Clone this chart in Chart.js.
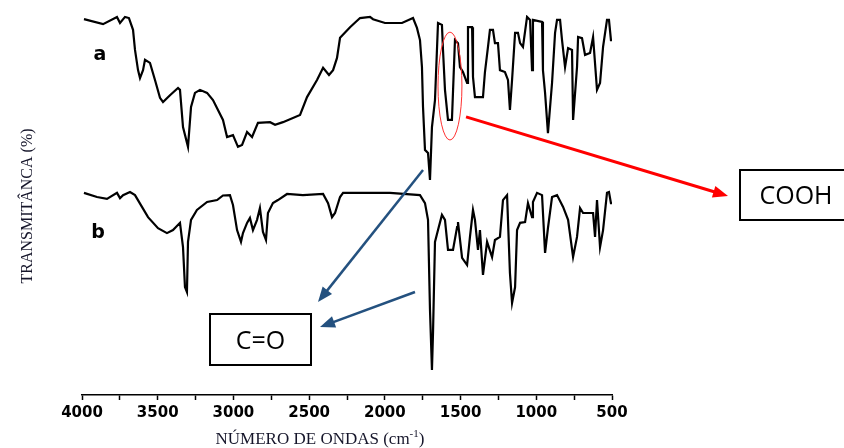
<!DOCTYPE html>
<html>
<head>
<meta charset="utf-8">
<title>Espectro IR</title>
<script src="https://cdn.jsdelivr.net/npm/chart.js@4.4.1/dist/chart.umd.min.js"></script>
<style>
  body { margin: 0; background: #fff; }
  canvas { display: block; }
</style>
</head>
<body>
<canvas id="grafico" width="844" height="448"></canvas>
<script>
// espectro a (numero de onda en cm-1 y transmitancia)
const ondasA = [3987, 3861, 3769, 3749, 3716, 3690, 3663, 3650, 3630, 3617, 3597, 3584, 3551, 3518, 3485, 3465,
  3419, 3366, 3353, 3333, 3300, 3280, 3254, 3221, 3174, 3135, 3069, 3042, 3003, 2970, 2943, 2910, 2877, 2838,
  2758, 2725, 2673, 2560, 2514, 2448, 2408, 2369, 2342, 2316, 2296, 2230, 2164, 2098, 2078, 1999, 1887, 1814,
  1788, 1768, 1755, 1748, 1735, 1715, 1702, 1689, 1669, 1649, 1623, 1616, 1603, 1583, 1557, 1537, 1517, 1504,
  1484, 1457, 1451, 1424, 1418, 1405, 1352, 1339, 1319, 1306, 1286, 1273, 1253, 1240, 1207, 1187, 1174, 1160,
  1140, 1121, 1107, 1088, 1061, 1041, 1028, 1022, 962, 956, 942, 923, 896, 876, 863, 843, 830, 810, 790, 764,
  757, 731, 724, 698, 678, 645, 625, 599, 579, 559, 533, 520, 507, 500];
const transA = [98.9, 97.6, 99.5, 97.9, 99.5, 99.2, 96.1, 90.8, 85.5, 83.4, 85.5, 88.2, 87.4, 82.9, 78.2, 77.1,
  78.9, 80.8, 80.3, 70.5, 65.3, 75.8, 79.5, 80.3, 79.5, 77.6, 72.4, 67.9, 68.4, 65.3, 65.8, 69.2, 67.9, 71.6,
  71.8, 71.1, 71.8, 73.7, 78.4, 82.9, 86.1, 84.2, 85.5, 88.7, 94.0, 96.8, 99.2, 99.5, 98.9, 97.9, 97.9, 99.2,
  96.6, 93.4, 86.3, 75.8, 64.5, 63.7, 56.6, 70.5, 77.6, 97.9, 97.4, 90.8, 80.3, 72.4, 72.4, 93.4, 92.6, 86.3,
  85.0, 82.1, 96.8, 96.8, 83.7, 78.4, 78.4, 85.0, 91.6, 96.1, 96.1, 92.6, 92.6, 85.5, 85.0, 82.9, 75.0, 82.9,
  95.3, 95.3, 92.6, 91.6, 99.5, 98.7, 85.5, 98.7, 98.2, 85.5, 79.5, 68.9, 82.1, 95.3, 98.7, 98.7, 93.4, 86.3,
  91.3, 90.8, 72.4, 86.3, 94.2, 93.9, 89.5, 90.0, 94.2, 80.3, 82.1, 91.6, 98.7, 98.7, 93.4, 93.4];

// espectro b
const ondasB = [3987, 3901, 3835, 3769, 3749, 3729, 3683, 3650, 3604, 3564, 3498, 3439, 3399, 3353, 3333, 3320,
  3307, 3300, 3280, 3241, 3174, 3108, 3069, 3023, 3003, 2976, 2950, 2937, 2910, 2891, 2871, 2844, 2825, 2805,
  2785, 2772, 2739, 2706, 2646, 2541, 2408, 2375, 2349, 2329, 2296, 2276, 2098, 1966, 1768, 1735, 1715, 1702,
  1689, 1682, 1669, 1649, 1623, 1603, 1583, 1550, 1523, 1517, 1490, 1457, 1438, 1418, 1405, 1385, 1372, 1352,
  1325, 1292, 1273, 1240, 1220, 1193, 1174, 1160, 1140, 1127, 1107, 1074, 1055, 1028, 1022, 995, 962, 942, 923,
  896, 863, 823, 790, 757, 731, 711, 691, 625, 612, 599, 579, 559, 533, 520, 507, 500];
const transB = [53.2, 52.1, 51.6, 53.2, 51.8, 52.6, 53.4, 52.6, 49.5, 46.8, 43.9, 42.6, 43.4, 45.3, 38.9, 28.4,
  27.1, 40.3, 46.1, 48.7, 50.8, 51.3, 52.5, 52.6, 50.0, 43.4, 40.3, 42.6, 45.3, 46.6, 43.4, 46.1, 49.2, 42.9,
  40.8, 47.9, 50.5, 51.3, 52.9, 52.6, 52.9, 50.5, 46.8, 47.9, 52.1, 53.2, 53.2, 53.2, 52.6, 50.5, 46.1, 22.4,
  6.6, 16.3, 40.3, 43.4, 47.4, 46.1, 38.2, 38.2, 44.2, 45.5, 36.1, 34.2, 41.6, 48.7, 46.1, 38.2, 43.4, 31.6,
  40.3, 36.3, 40.8, 41.6, 51.3, 52.6, 32.1, 24.2, 28.4, 43.4, 45.3, 45.5, 50.5, 46.8, 50.8, 53.2, 52.6, 37.4, 43.9,
  52.1, 52.6, 49.5, 46.1, 36.3, 41.6, 49.2, 47.9, 47.9, 41.6, 51.3, 38.9, 43.4, 53.2, 53.4, 50.5, 50.5];

// etiquetas del eje x
const ticksX = [4000, 3500, 3000, 2500, 2000, 1500, 1000, 500];

const puntos = (xs, ys) => xs.map((x, i) => ({ x: x, y: ys[i] }));

// flecha con punta rellena
function flecha(ctx, x1, y1, x2, y2, color, ancho) {
  const ang = Math.atan2(y2 - y1, x2 - x1);
  const largo = 15;
  ctx.save();
  ctx.strokeStyle = color;
  ctx.fillStyle = color;
  ctx.lineWidth = ancho;
  ctx.beginPath();
  ctx.moveTo(x1, y1);
  ctx.lineTo(x2 - Math.cos(ang) * largo * 0.8, y2 - Math.sin(ang) * largo * 0.8);
  ctx.stroke();
  ctx.beginPath();
  ctx.moveTo(x2, y2);
  ctx.lineTo(x2 - largo * Math.cos(ang) + 6 * Math.sin(ang), y2 - largo * Math.sin(ang) - 6 * Math.cos(ang));
  ctx.lineTo(x2 - largo * Math.cos(ang) - 6 * Math.sin(ang), y2 - largo * Math.sin(ang) + 6 * Math.cos(ang));
  ctx.closePath();
  ctx.fill();
  ctx.restore();
}

function caja(ctx, x, y, w, h, texto) {
  ctx.save();
  ctx.strokeStyle = '#000';
  ctx.lineWidth = 2;
  ctx.strokeRect(x, y, w, h);
  ctx.fillStyle = '#000';
  ctx.font = '25px "Open Sans"';
  ctx.textAlign = 'center';
  ctx.textBaseline = 'middle';
  ctx.fillText(texto, x + w / 2, y + h / 2 + 2);
  ctx.restore();
}

// textos, elipse y flechas encima del grafico
const anotaciones = {
  id: 'anotaciones',
  afterDraw(chart) {
    const ctx = chart.ctx;
    const sx = chart.scales.x;
    const sy = chart.scales.y;

    ctx.save();
    ctx.fillStyle = '#000';
    ctx.font = 'bold 19px "DejaVu Sans"';
    ctx.textAlign = 'center';
    ctx.textBaseline = 'middle';
    ctx.fillText('a', 100, 55);
    ctx.fillText('b', 98, 233);

    // titulo eje y
    ctx.fillStyle = '#15152a';
    ctx.font = '16px "Liberation Serif"';
    ctx.translate(28, 206);
    ctx.rotate(-Math.PI / 2);
    ctx.fillText('TRANSMITÂNCA (%)', 0, 0);
    ctx.restore();

    // titulo eje x con superindice
    ctx.save();
    ctx.fillStyle = '#15152a';
    ctx.textBaseline = 'alphabetic';
    ctx.font = '17px "Liberation Serif"';
    const t1 = 'NÚMERO DE ONDAS (cm';
    const w1 = ctx.measureText(t1).width;
    ctx.font = '11px "Liberation Serif"';
    const w2 = ctx.measureText('-1').width;
    ctx.font = '17px "Liberation Serif"';
    const w3 = ctx.measureText(')').width;
    let x0 = 320 - (w1 + w2 + w3) / 2;
    ctx.fillText(t1, x0, 444);
    ctx.font = '11px "Liberation Serif"';
    ctx.fillText('-1', x0 + w1, 437);
    ctx.font = '17px "Liberation Serif"';
    ctx.fillText(')', x0 + w1 + w2, 444);
    ctx.restore();

    // elipse roja sobre el pico de COOH
    const cx = sx.getPixelForValue(1570);
    const cy = sy.getPixelForValue(81.3);
    const rx = Math.abs(sx.getPixelForValue(1570 - 79) - cx);
    const ry = Math.abs(sy.getPixelForValue(81.3 + 14.2) - cy);
    ctx.save();
    ctx.strokeStyle = '#ff3030';
    ctx.lineWidth = 1;
    ctx.beginPath();
    ctx.ellipse(cx, cy, rx, ry, 0, 0, Math.PI * 2);
    ctx.stroke();
    ctx.restore();

    flecha(ctx, sx.getPixelForValue(1464), sy.getPixelForValue(73.2), 728, 196, '#ff0000', 3);
    flecha(ctx, sx.getPixelForValue(1748), sy.getPixelForValue(59.2), 318, 302, '#24517f', 2.5);
    flecha(ctx, sx.getPixelForValue(1801), sy.getPixelForValue(27.1), 320, 327, '#24517f', 2.5);

    caja(ctx, 740, 170, 112, 50, 'COOH');
    caja(ctx, 210, 314, 101, 51, 'C=O');
  }
};

const ctx = document.getElementById('grafico').getContext('2d');
const grafico = new Chart(ctx, {
  type: 'line',
  data: {
    datasets: [
      { label: 'a', data: puntos(ondasA, transA), borderColor: '#000', borderWidth: 2.2, pointRadius: 0, tension: 0 },
      { label: 'b', data: puntos(ondasB, transB), borderColor: '#000', borderWidth: 2.2, pointRadius: 0, tension: 0 }
    ]
  },
  options: {
    responsive: false,
    animation: false,
    layout: { padding: { left: 82, right: 232, top: 15, bottom: 0 } },
    plugins: { legend: { display: false }, tooltip: { enabled: false } },
    scales: {
      x: {
        type: 'linear',
        reverse: true,
        min: 500,
        max: 4000,
        afterBuildTicks: (axis) => {
          const ts = [];
          for (let v = 4000; v >= 500; v -= 250) ts.push({ value: v });
          axis.ticks = ts;
        },
        afterFit: (axis) => { axis.height = 53; },
        ticks: {
          autoSkip: false,
          maxRotation: 0,
          padding: 4,
          color: '#000',
          font: { family: 'DejaVu Sans', size: 15, weight: 'bold' },
          callback: (v) => ticksX.includes(v) ? String(v) : ''
        },
        grid: { drawOnChartArea: false, drawTicks: true, tickLength: 5, color: '#000', tickWidth: 1.5 },
        border: { display: true, color: '#000', width: 1.5 }
      },
      y: { display: false, min: 0, max: 100 }
    }
  },
  plugins: [anotaciones]
});
</script>
</body>
</html>
